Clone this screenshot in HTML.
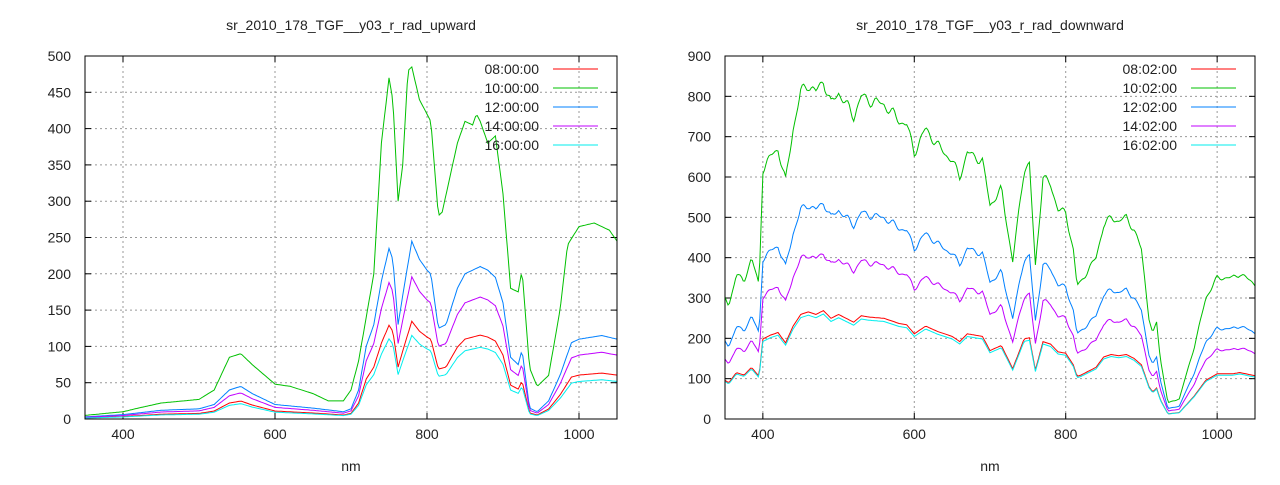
<!DOCTYPE html>
<html><head><meta charset="utf-8"><style>
body{margin:0;background:#fff}
svg text{font-family:"Liberation Sans",sans-serif;font-size:14px;fill:#222}
</style></head><body>
<svg id="s" width="1280" height="480" xmlns="http://www.w3.org/2000/svg"></svg>
<script>
const S=document.getElementById('s');let h='';
function interp(pts,x){for(let i=0;i<pts.length-1;i++){if(x>=pts[i][0]&&x<=pts[i+1][0]){const t=(x-pts[i][0])/(pts[i+1][0]-pts[i][0]);return pts[i][1]+t*(pts[i+1][1]-pts[i][1]);}}return pts[pts.length-1][1];}
function plot(o){
 const {x0,x1,y0,y1,ymax,ystep,title,names,series}=o;
 const X=n=>x0+(n-350)/700*(x1-x0), Y=v=>y1-v/ymax*(y1-y0);
 h+=`<text x="${(x0+x1)/2}" y="30" text-anchor="middle">${title}</text>`;
 h+=`<text x="${(x0+x1)/2}" y="471" text-anchor="middle">nm</text>`;
 for(let n=400;n<=1000;n+=200){h+=`<line x1="${X(n)}" x2="${X(n)}" y1="${y0}" y2="${y1}" stroke="#999" stroke-dasharray="2,3"/>`;
  h+=`<line x1="${X(n)}" x2="${X(n)}" y1="${y1}" y2="${y1-6}" stroke="#000"/><line x1="${X(n)}" x2="${X(n)}" y1="${y0}" y2="${y0+6}" stroke="#000"/>`;
  h+=`<text x="${X(n)}" y="${y1+20}" text-anchor="middle">${n}</text>`;}
 for(let v=0;v<=ymax;v+=ystep){const y=Y(v);
  if(v>0&&v<ymax)h+=`<line x1="${x0}" x2="${x1}" y1="${y}" y2="${y}" stroke="#999" stroke-dasharray="2,3"/>`;
  h+=`<line x1="${x0}" x2="${x0+6}" y1="${y}" y2="${y}" stroke="#000"/><line x1="${x1}" x2="${x1-6}" y1="${y}" y2="${y}" stroke="#000"/>`;
  h+=`<text x="${x0-14}" y="${y+5}" text-anchor="end">${v}</text>`;}
 const cols=['#ff0000','#00c000','#0080ff','#c000ff','#00eeee'];
 series.forEach((s,i)=>{let d='';for(let n=350;n<=1050;n+=2){let v=s(n);v=Math.max(0,Math.min(ymax,v));d+=(d?'L':'M')+X(n).toFixed(1)+','+Y(v).toFixed(1);}
  h+=`<path d="${d}" fill="none" stroke="${cols[i]}" stroke-width="1"/>`;});
 names.forEach((t,i)=>{const y=69+19*i;h+=`<text x="${x1-78}" y="${y+5}" text-anchor="end">${t}</text><line x1="${x1-64}" x2="${x1-19}" y1="${y}" y2="${y}" stroke="${cols[i]}"/>`;});
 h+=`<rect x="${x0}" y="${y0}" width="${x1-x0}" height="${y1-y0}" fill="none" stroke="#000"/>`;
}
const gU=[[350,5],[400,10],[420,15],[450,22],[500,27],[520,40],[540,85],[555,90],[570,75],[600,48],[620,45],[650,35],[670,25],[690,25],[700,40],[710,80],[720,140],[730,200],[740,380],[750,470],[755,440],[762,300],[768,350],[775,480],[780,485],[790,440],[800,420],[805,410],[815,280],[820,285],[840,380],[850,410],[860,405],[865,420],[870,410],[880,380],[890,390],[900,310],[910,180],[920,175],[925,205],[935,70],[945,45],[960,60],[975,150],[985,240],[1000,265],[1020,270],[1040,260],[1050,245]];
const bU=[[350,3],[400,6],[450,12],[500,14],[520,20],[540,40],[555,45],[570,35],[600,20],[650,15],[690,10],[700,14],[710,40],[720,100],[730,130],[740,190],[750,235],[755,220],[762,130],[768,170],[780,245],[790,220],[800,205],[805,200],[815,125],[825,130],[840,180],[850,200],[860,205],[870,210],[880,205],[890,195],[900,160],[910,85],[920,75],[925,95],[935,15],[945,10],[960,25],[975,60],[990,105],[1000,110],[1030,115],[1050,110]];
const gD=[[350,300],[355,280],[365,360],[375,340],[385,400],[395,330],[400,620],[410,650],[420,670],[430,590],[440,720],[450,810],[460,830],[470,810],[480,840],[490,780],[500,810],[510,780],[520,750],[530,800],[540,790],[560,780],[580,740],[590,730],[600,660],[615,720],[630,680],[650,640],[660,600],[670,660],[690,640],[700,530],[715,570],[725,450],[730,390],[745,620],[752,630],[760,380],[770,600],[780,580],[790,520],[800,510],[810,420],[815,330],[820,340],[840,400],[850,480],[860,500],[870,490],[880,500],[890,470],[900,420],[910,250],[915,210],[920,240],[925,150],[935,40],[950,50],[970,180],[985,300],[1000,350],[1020,350],[1030,360],[1050,335]];
const jit=n=>Math.sin(n*0.31)*0.012+Math.sin(n*0.53)*0.008;
plot({x0:85,x1:617,y0:56,y1:419,ymax:500,ystep:50,title:'sr_2010_178_TGF__y03_r_rad_upward',
 names:['08:00:00','10:00:00','12:00:00','14:00:00','16:00:00'],
 series:[n=>interp(bU,n)*0.55,n=>interp(gU,n),n=>interp(bU,n),n=>interp(bU,n)*0.8,n=>interp(bU,n)*0.47]});
plot({x0:725,x1:1255,y0:56,y1:419,ymax:900,ystep:100,title:'sr_2010_178_TGF__y03_r_rad_downward',
 names:['08:02:00','10:02:00','12:02:00','14:02:00','16:02:00'],
 series:[n=>interp(gD,n)*0.32,n=>interp(gD,n)*(1+jit(n)),n=>interp(gD,n)*0.64*(1+jit(n)),n=>interp(gD,n)*0.49*(1+jit(n)),n=>interp(gD,n)*0.31]});
S.innerHTML=h;
</script>
</body></html>
